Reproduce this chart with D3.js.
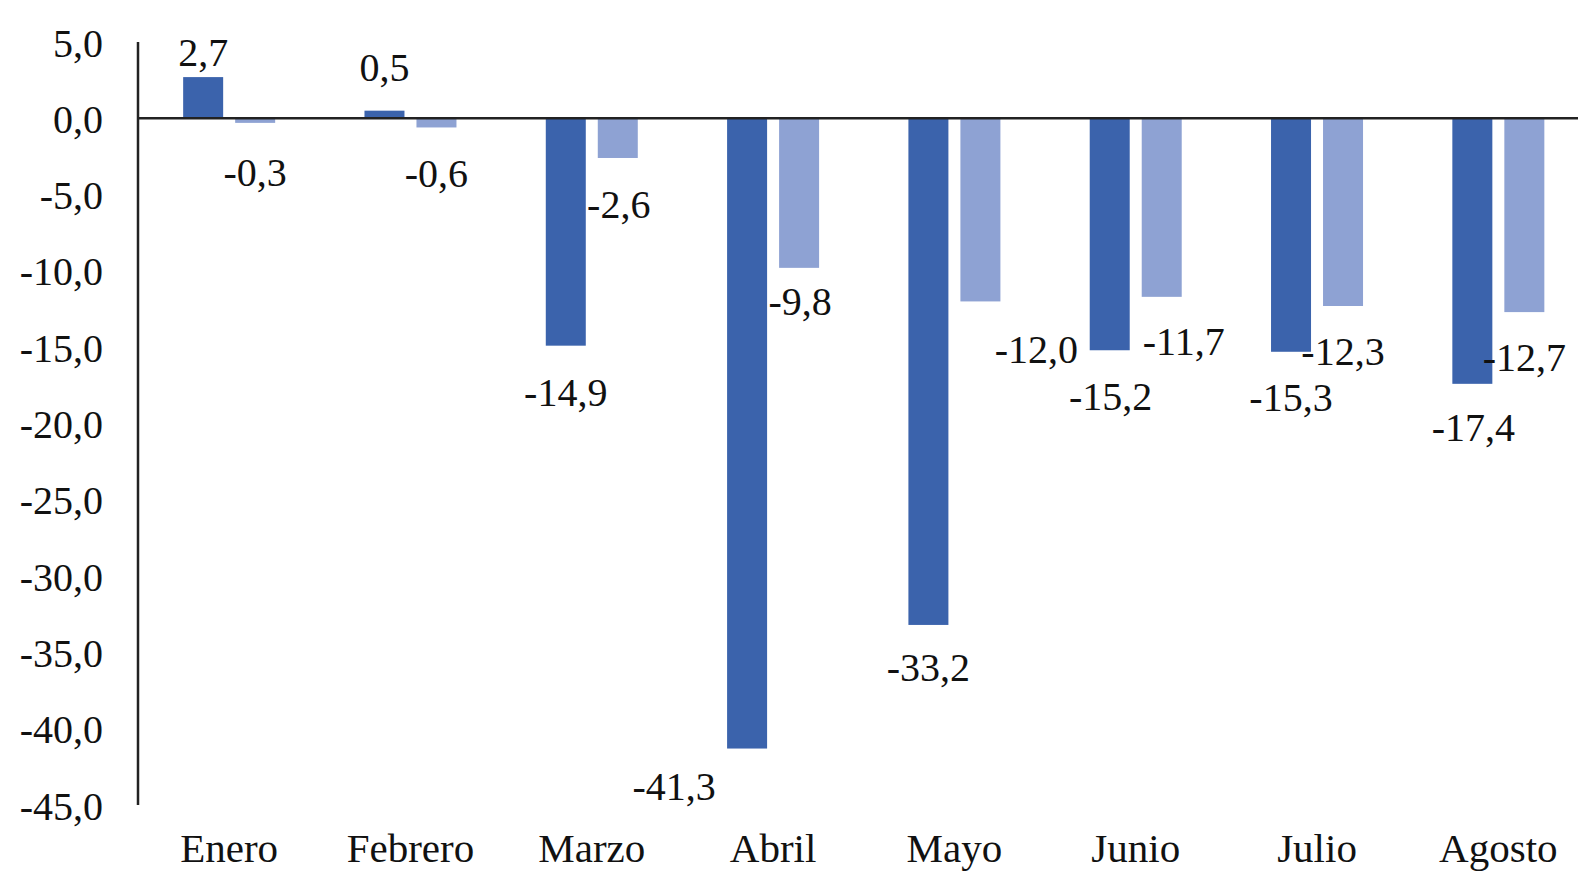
<!DOCTYPE html>
<html>
<head>
<meta charset="utf-8">
<script src="https://cdn.jsdelivr.net/npm/d3@7"></script>
<style>
  html, body { margin: 0; padding: 0; background: #fff; }
  svg { display: block; }
  text { font-family: "Liberation Serif", "Times New Roman", serif; fill: #111; }
</style>
</head>
<body>
<svg id="chart" width="1578" height="872"></svg>
<script>
// ---- data ----
const categories = ["Enero", "Febrero", "Marzo", "Abril", "Mayo", "Junio", "Julio", "Agosto"];
const seriesA = [2.7, 0.5, -14.9, -41.3, -33.2, -15.2, -15.3, -17.4];
const seriesB = [-0.3, -0.6, -2.6, -9.8, -12.0, -11.7, -12.3, -12.7];
const yTicks = [5, 0, -5, -10, -15, -20, -25, -30, -35, -40, -45];

// label nudges (pixels) to mimic manual placement in the original
const nudgeA = [[0,0],[0,-19],[0,0],[-73,-9],[0,-4],[1,0],[0,-1],[1,-3]];
const nudgeB = [[0,3],[0,0],[1,0],[1,-13],[56,2],[22,-2],[0,-1],[0,-1]];

const colorA = "#3B63AC";
const colorB = "#8EA2D3";

const svg = d3.select("#chart");
const fmt = v => d3.format(".1f")(v).replace(".", ",").replace("−", "-");

const x0 = d3.scaleBand().domain(categories).range([138.5, 1589]).padding(0);
const bw = x0.bandwidth();
const x1 = d3.scaleBand().domain(["a", "b"]).range([bw / 2 - 46, bw / 2 + 46]).paddingInner(12 / 52).paddingOuter(0);
const y = d3.scaleLinear().domain([5, -45]).range([42, 805]);

// bars
const rows = categories.map((c, i) => ({ c, a: seriesA[i], b: seriesB[i], i }));
const g = svg.append("g");
[["a", colorA], ["b", colorB]].forEach(([key, col]) => {
  g.selectAll(".bar-" + key).data(rows).enter().append("rect")
    .attr("class", "bar-" + key)
    .attr("x", d => x0(d.c) + x1(key))
    .attr("width", x1.bandwidth())
    .attr("y", d => y(Math.max(0, d[key])))
    .attr("height", d => Math.abs(y(d[key]) - y(0)))
    .attr("fill", col);
});

// y axis (labels only, no ticks)
const yAxis = d3.axisLeft(y).tickValues(yTicks).tickSize(0).tickPadding(35).tickFormat(fmt);
const ya = svg.append("g").attr("transform", "translate(138,0)").call(yAxis);
ya.select(".domain").remove();
ya.selectAll("text").style("font-size", "40px").attr("fill", "#111").attr("dy", "0.35em");

// vertical axis line
svg.append("line").attr("x1", 138).attr("x2", 138).attr("y1", y(5)).attr("y2", y(-45))
  .attr("stroke", "#222").attr("stroke-width", 2.5);
// zero line
svg.append("line").attr("x1", 138).attr("x2", 1578).attr("y1", y(0)).attr("y2", y(0))
  .attr("stroke", "#222").attr("stroke-width", 2.5);

// category labels
const xAxis = d3.axisBottom(x0).tickSize(0).tickPadding(0);
const xa = svg.append("g").call(xAxis);
xa.select(".domain").remove();
xa.selectAll("text").style("font-size", "41px").attr("fill", "#111").attr("y", 862).attr("dy", 0);

// value labels
function addLabels(key, nudges) {
  svg.selectAll(".lab-" + key).data(rows).enter().append("text")
    .attr("class", "lab-" + key)
    .attr("text-anchor", "middle")
    .style("font-size", "40px")
    .attr("x", d => x0(d.c) + x1(key) + x1.bandwidth() / 2 + nudges[d.i][0])
    .attr("y", d => y(d[key]) + (d[key] < 0 ? 46 : -25) + nudges[d.i][1])
    .attr("dy", "0.35em")
    .text(d => fmt(d[key]));
}
addLabels("a", nudgeA);
addLabels("b", nudgeB);
</script>
</body>
</html>
